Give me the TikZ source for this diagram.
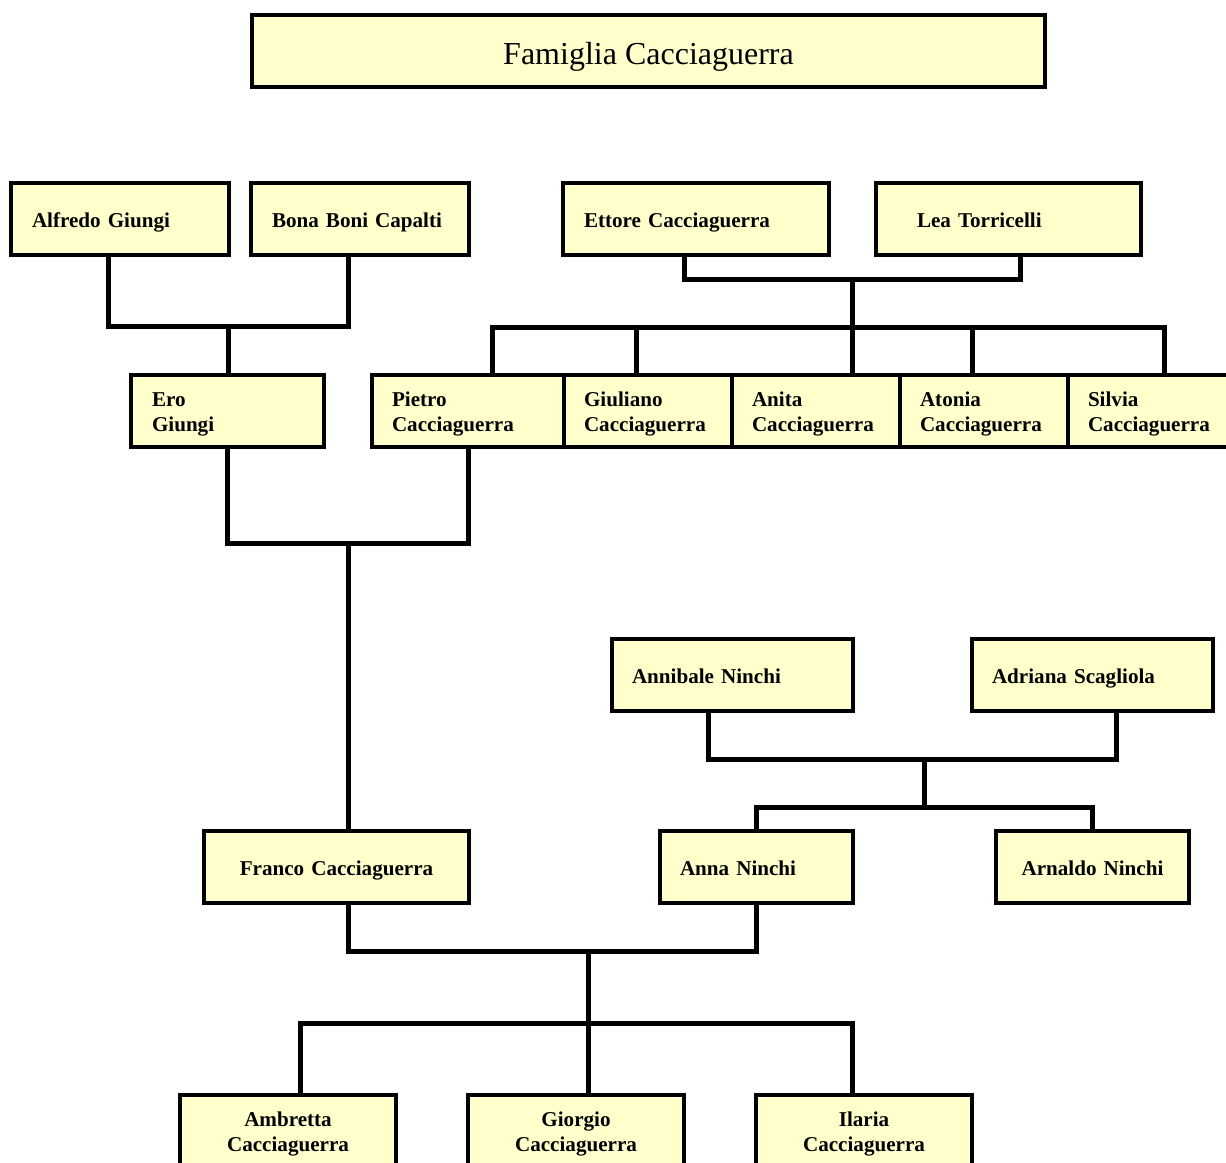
\documentclass[tikz,border=0pt]{standalone}
\usepackage{fontspec}
\setmainfont{Liberation Serif}
\definecolor{boxfill}{HTML}{FFFFCC}
\newcommand\pTop{\rule{0pt}{22pt}}
\newcommand\pBot{\rule[-6pt]{0pt}{6pt}}
\tikzset{
  person/.style={draw=black, fill=boxfill, line width=3.8pt, minimum height=72pt,
    inner ysep=0pt, font=\bfseries\fontsize{21.1}{25}\selectfont, anchor=center},
  lbox/.style={person, align=left},
  cbox/.style={person, align=center, inner xsep=10pt},
  titlebox/.style={draw=black, fill=boxfill, line width=4pt, minimum height=72pt,
    minimum width=793pt, inner sep=0pt, text height=30pt, text depth=4pt,
    font=\fontsize{32}{38}\selectfont},
  conn/.style={line width=5pt, line join=miter}
}
\begin{document}
\begin{tikzpicture}[x=1pt,y=-1pt]
\useasboundingbox (0,0) rectangle (1226,1162);
\clip (0,0) rectangle (1226,1162);

\node[titlebox] (title) at (648.5,51) {Famiglia Cacciaguerra};

% row 1
\node[lbox, text width=176pt, inner xsep=21pt] (alfredo) at (120,219) {\pTop Alfredo Giungi\pBot};
\node[lbox, text width=176pt, inner xsep=21pt] (bona) at (360,219) {\pTop Bona Boni Capalti\pBot};
\node[lbox, text width=224pt, inner xsep=21pt] (ettore) at (696,219) {\pTop Ettore Cacciaguerra\pBot};
\node[lbox, text width=183pt, inner xsep=41pt] (lea) at (1008.5,219) {\pTop Lea Torricelli\pBot};

% row 2
\node[lbox, text width=151pt, inner xsep=21pt] (ero) at (227.5,411) {\pTop Ero\\Giungi\pBot};
\node[lbox, text width=152pt, inner xsep=20pt] (pietro) at (468,411) {\pTop Pietro\\Cacciaguerra\pBot};
\node[lbox, text width=128pt, inner xsep=20pt] (giuliano) at (648,411) {\pTop Giuliano\\Cacciaguerra\pBot};
\node[lbox, text width=128pt, inner xsep=20pt] (anita) at (816,411) {\pTop Anita\\Cacciaguerra\pBot};
\node[lbox, text width=128pt, inner xsep=20pt] (atonia) at (984,411) {\pTop Atonia\\Cacciaguerra\pBot};
\node[lbox, text width=128pt, inner xsep=20pt] (silvia) at (1152,411) {\pTop Silvia\\Cacciaguerra\pBot};

% Ninchi parents
\node[lbox, text width=201pt, inner xsep=20pt] (annibale) at (732.5,675) {\pTop Annibale Ninchi\pBot};
\node[lbox, text width=201pt, inner xsep=20pt] (adriana) at (1092.5,675) {\pTop Adriana Scagliola\pBot};

% row 4
\node[cbox, text width=245pt] (franco) at (336.5,867) {\pTop Franco Cacciaguerra\pBot};
\node[lbox, text width=153pt, inner xsep=20pt] (anna) at (756.5,867) {\pTop Anna Ninchi\pBot};
\node[cbox, text width=173pt] (arnaldo) at (1092.5,867) {\pTop Arnaldo Ninchi\pBot};

% bottom row
\node[cbox, text width=196pt] (ambretta) at (288,1131) {\pTop Ambretta\\Cacciaguerra\pBot};
\node[cbox, text width=196pt] (giorgio) at (576,1131) {\pTop Giorgio\\Cacciaguerra\pBot};
\node[cbox, text width=196pt] (ilaria) at (864,1131) {\pTop Ilaria\\Cacciaguerra\pBot};

% junctions
\coordinate (j1) at (228,326);
\coordinate (j2) at (852,279);
\coordinate (j3) at (852,327);
\coordinate (j4) at (348,543);
\coordinate (j5) at (924,759);
\coordinate (j6) at (924,807);
\coordinate (j7) at (588,951);
\coordinate (j8) at (588,1023);

% connectors
\draw[conn] ([xshift=-12pt]alfredo.south) |- (j1) -| ([xshift=-12pt]bona.south);
\draw[conn] (j1) -- (j1 |- ero.north);

\draw[conn] ([xshift=-12pt]ettore.south) |- (j2) -| ([xshift=11.5pt]lea.south);
\draw[conn] (j2) -- (j3);
\draw[conn] ([xshift=24pt]pietro.north) |- (j3) -| ([xshift=12pt]silvia.north);
\draw[conn] ([xshift=-12pt]giuliano.north) -- ([xshift=-12pt]giuliano.north |- j3);
\draw[conn] (j3) -- (j3 |- anita.north);
\draw[conn] ([xshift=-12pt]atonia.north) -- ([xshift=-12pt]atonia.north |- j3);

\draw[conn] (ero.south) |- (j4) -| (pietro.south);
\draw[conn] (j4) -- (j4 |- franco.north);

\draw[conn] ([xshift=-24.5pt]annibale.south) |- (j5) -| ([xshift=23.5pt]adriana.south);
\draw[conn] (j5) -- (j6);
\draw[conn] (anna.north) |- (j6) -| (arnaldo.north);

\draw[conn] ([xshift=11.5pt]franco.south) |- (j7) -| (anna.south);
\draw[conn] (j7) -- (j8);
\draw[conn] ([xshift=12pt]ambretta.north) |- (j8) -| ([xshift=-12pt]ilaria.north);
\draw[conn] (j8) -- (j8 |- giorgio.north);
\end{tikzpicture}
\end{document}
